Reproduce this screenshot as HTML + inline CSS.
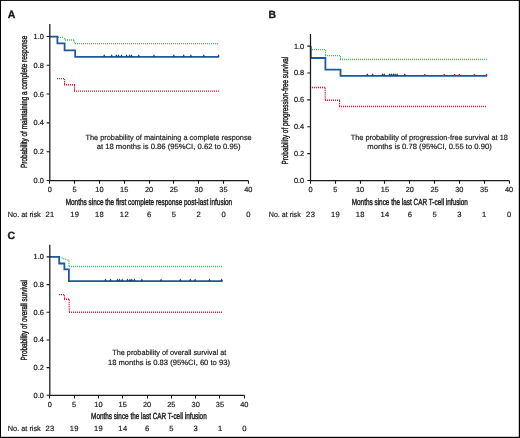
<!DOCTYPE html><html><head><meta charset="utf-8"><style>html,body{margin:0;padding:0;background:#fff;}svg{display:block;will-change:transform;filter:blur(0.3px);}text{font-family:"Liberation Sans",sans-serif;fill:#1a1a1a;stroke:#1a1a1a;stroke-width:0.18px;text-rendering:geometricPrecision;}</style></head><body>
<svg width="520" height="438" viewBox="0 0 520 438">
<rect x="0" y="0" width="520" height="438" fill="#fff"/>
<text x="43.9" y="183" font-size="7.4" text-anchor="end">0.0</text>
<text x="43.9" y="154.19" font-size="7.4" text-anchor="end">0.2</text>
<text x="43.9" y="125.38" font-size="7.4" text-anchor="end">0.4</text>
<text x="43.9" y="96.57" font-size="7.4" text-anchor="end">0.6</text>
<text x="43.9" y="67.76" font-size="7.4" text-anchor="end">0.8</text>
<text x="43.9" y="38.95" font-size="7.4" text-anchor="end">1.0</text>
<text x="49.8" y="191.8" font-size="7.4" text-anchor="middle">0</text>
<text x="50" y="216.9" font-size="7.6" letter-spacing="0.4" text-anchor="middle">21</text>
<text x="74.61" y="191.8" font-size="7.4" text-anchor="middle">5</text>
<text x="74.81" y="216.9" font-size="7.6" letter-spacing="0.4" text-anchor="middle">19</text>
<text x="99.42" y="191.8" font-size="7.4" text-anchor="middle">10</text>
<text x="99.62" y="216.9" font-size="7.6" letter-spacing="0.4" text-anchor="middle">18</text>
<text x="124.24" y="191.8" font-size="7.4" text-anchor="middle">15</text>
<text x="124.44" y="216.9" font-size="7.6" letter-spacing="0.4" text-anchor="middle">12</text>
<text x="149.05" y="191.8" font-size="7.4" text-anchor="middle">20</text>
<text x="149.25" y="216.9" font-size="7.6" letter-spacing="0.4" text-anchor="middle">6</text>
<text x="173.86" y="191.8" font-size="7.4" text-anchor="middle">25</text>
<text x="174.06" y="216.9" font-size="7.6" letter-spacing="0.4" text-anchor="middle">5</text>
<text x="198.68" y="191.8" font-size="7.4" text-anchor="middle">30</text>
<text x="198.88" y="216.9" font-size="7.6" letter-spacing="0.4" text-anchor="middle">2</text>
<text x="223.49" y="191.8" font-size="7.4" text-anchor="middle">35</text>
<text x="223.69" y="216.9" font-size="7.6" letter-spacing="0.4" text-anchor="middle">0</text>
<text x="248.3" y="191.8" font-size="7.4" text-anchor="middle">40</text>
<text x="248.5" y="216.9" font-size="7.6" letter-spacing="0.4" text-anchor="middle">0</text>
<path d="M46.6 180.5H49.8M46.6 151.69H49.8M46.6 122.88H49.8M46.6 94.07H49.8M46.6 65.26H49.8M46.6 36.45H49.8M49.5 180.5V183.7M74.5 180.5V183.7M99.5 180.5V183.7M124.5 180.5V183.7M149.5 180.5V183.7M173.5 180.5V183.7M198.5 180.5V183.7M223.5 180.5V183.7M248.5 180.5V183.7" fill="none" stroke="#1a1a1a" stroke-width="1.1"/>
<text x="7.8" y="216.9" font-size="7.6" textLength="33" lengthAdjust="spacingAndGlyphs">No. at risk</text>
<text x="65.7" y="205.2" font-size="8.9" style="stroke-width:0.4px" textLength="166.5" lengthAdjust="spacingAndGlyphs">Months since the first complete response post-last infusion</text>
<text transform="translate(26.8 168) rotate(-90)" x="0" y="0" font-size="8.9" style="stroke-width:0.4px" textLength="132.3" lengthAdjust="spacingAndGlyphs">Probability of maintaining a complete response</text>
<text x="304.2" y="183" font-size="7.4" text-anchor="end">0.0</text>
<text x="304.2" y="156.12" font-size="7.4" text-anchor="end">0.2</text>
<text x="304.2" y="129.24" font-size="7.4" text-anchor="end">0.4</text>
<text x="304.2" y="102.36" font-size="7.4" text-anchor="end">0.6</text>
<text x="304.2" y="75.48" font-size="7.4" text-anchor="end">0.8</text>
<text x="304.2" y="48.6" font-size="7.4" text-anchor="end">1.0</text>
<text x="310.5" y="191.8" font-size="7.4" text-anchor="middle">0</text>
<text x="310.7" y="216.6" font-size="7.6" letter-spacing="0.4" text-anchor="middle">23</text>
<text x="335.31" y="191.8" font-size="7.4" text-anchor="middle">5</text>
<text x="335.51" y="216.6" font-size="7.6" letter-spacing="0.4" text-anchor="middle">19</text>
<text x="360.12" y="191.8" font-size="7.4" text-anchor="middle">10</text>
<text x="360.32" y="216.6" font-size="7.6" letter-spacing="0.4" text-anchor="middle">18</text>
<text x="384.94" y="191.8" font-size="7.4" text-anchor="middle">15</text>
<text x="385.14" y="216.6" font-size="7.6" letter-spacing="0.4" text-anchor="middle">14</text>
<text x="409.75" y="191.8" font-size="7.4" text-anchor="middle">20</text>
<text x="409.95" y="216.6" font-size="7.6" letter-spacing="0.4" text-anchor="middle">6</text>
<text x="434.56" y="191.8" font-size="7.4" text-anchor="middle">25</text>
<text x="434.76" y="216.6" font-size="7.6" letter-spacing="0.4" text-anchor="middle">5</text>
<text x="459.38" y="191.8" font-size="7.4" text-anchor="middle">30</text>
<text x="459.57" y="216.6" font-size="7.6" letter-spacing="0.4" text-anchor="middle">3</text>
<text x="484.19" y="191.8" font-size="7.4" text-anchor="middle">35</text>
<text x="484.39" y="216.6" font-size="7.6" letter-spacing="0.4" text-anchor="middle">1</text>
<text x="509" y="191.8" font-size="7.4" text-anchor="middle">40</text>
<text x="509.2" y="216.6" font-size="7.6" letter-spacing="0.4" text-anchor="middle">0</text>
<path d="M307.3 180.5H310.5M307.3 153.62H310.5M307.3 126.74H310.5M307.3 99.86H310.5M307.3 72.98H310.5M307.3 46.1H310.5M310.5 180.5V183.7M335.5 180.5V183.7M360.5 180.5V183.7M384.5 180.5V183.7M409.5 180.5V183.7M434.5 180.5V183.7M459.5 180.5V183.7M484.5 180.5V183.7M509.5 180.5V183.7" fill="none" stroke="#1a1a1a" stroke-width="1.1"/>
<text x="268.8" y="216.6" font-size="7.6" textLength="31.9" lengthAdjust="spacingAndGlyphs">No. at risk</text>
<text x="351.7" y="205.1" font-size="8.9" style="stroke-width:0.4px" textLength="116.2" lengthAdjust="spacingAndGlyphs">Months since the last CAR T-cell infusion</text>
<text transform="translate(287.8 164.5) rotate(-90)" x="0" y="0" font-size="8.9" style="stroke-width:0.4px" textLength="107.8" lengthAdjust="spacingAndGlyphs">Probability of progression-free survival</text>
<text x="43.9" y="397.8" font-size="7.4" text-anchor="end">0.0</text>
<text x="43.9" y="370.12" font-size="7.4" text-anchor="end">0.2</text>
<text x="43.9" y="342.44" font-size="7.4" text-anchor="end">0.4</text>
<text x="43.9" y="314.76" font-size="7.4" text-anchor="end">0.6</text>
<text x="43.9" y="287.08" font-size="7.4" text-anchor="end">0.8</text>
<text x="43.9" y="259.4" font-size="7.4" text-anchor="end">1.0</text>
<text x="49.8" y="407" font-size="7.4" text-anchor="middle">0</text>
<text x="50" y="431.4" font-size="7.6" letter-spacing="0.4" text-anchor="middle">23</text>
<text x="74.11" y="407" font-size="7.4" text-anchor="middle">5</text>
<text x="74.31" y="431.4" font-size="7.6" letter-spacing="0.4" text-anchor="middle">19</text>
<text x="98.42" y="407" font-size="7.4" text-anchor="middle">10</text>
<text x="98.62" y="431.4" font-size="7.6" letter-spacing="0.4" text-anchor="middle">19</text>
<text x="122.74" y="407" font-size="7.4" text-anchor="middle">15</text>
<text x="122.94" y="431.4" font-size="7.6" letter-spacing="0.4" text-anchor="middle">14</text>
<text x="147.05" y="407" font-size="7.4" text-anchor="middle">20</text>
<text x="147.25" y="431.4" font-size="7.6" letter-spacing="0.4" text-anchor="middle">6</text>
<text x="171.36" y="407" font-size="7.4" text-anchor="middle">25</text>
<text x="171.56" y="431.4" font-size="7.6" letter-spacing="0.4" text-anchor="middle">5</text>
<text x="195.68" y="407" font-size="7.4" text-anchor="middle">30</text>
<text x="195.88" y="431.4" font-size="7.6" letter-spacing="0.4" text-anchor="middle">3</text>
<text x="219.99" y="407" font-size="7.4" text-anchor="middle">35</text>
<text x="220.19" y="431.4" font-size="7.6" letter-spacing="0.4" text-anchor="middle">1</text>
<text x="244.3" y="407" font-size="7.4" text-anchor="middle">40</text>
<text x="244.5" y="431.4" font-size="7.6" letter-spacing="0.4" text-anchor="middle">0</text>
<path d="M46.6 395.3H49.8M46.6 367.62H49.8M46.6 339.94H49.8M46.6 312.26H49.8M46.6 284.58H49.8M46.6 256.9H49.8M49.5 395.3V398.5M74.5 395.3V398.5M98.5 395.3V398.5M122.5 395.3V398.5M147.5 395.3V398.5M171.5 395.3V398.5M195.5 395.3V398.5M219.5 395.3V398.5M244.5 395.3V398.5" fill="none" stroke="#1a1a1a" stroke-width="1.1"/>
<text x="7.8" y="431.4" font-size="7.6" textLength="33" lengthAdjust="spacingAndGlyphs">No. at risk</text>
<text x="91.1" y="419.2" font-size="8.9" style="stroke-width:0.4px" textLength="115.6" lengthAdjust="spacingAndGlyphs">Months since the last CAR T-cell infusion</text>
<text transform="translate(26.8 360.4) rotate(-90)" x="0" y="0" font-size="8.9" style="stroke-width:0.4px" textLength="80.4" lengthAdjust="spacingAndGlyphs">Probability of overall survival</text>
<text x="7.7" y="17.6" font-size="10.5" font-weight="bold" style="stroke-width:0.35px">A</text>
<text x="268.4" y="17.8" font-size="10.4" font-weight="bold" style="stroke-width:0.35px">B</text>
<text x="7.6" y="238.8" font-size="10.5" font-weight="bold" style="stroke-width:0.35px">C</text>
<text x="85.5" y="140.1" font-size="7.6" textLength="166.2" lengthAdjust="spacingAndGlyphs">The probability of maintaining a complete response</text>
<text x="96.7" y="149.3" font-size="7.6" textLength="143.8" lengthAdjust="spacingAndGlyphs">at 18 months is 0.86 (95%CI, 0.62 to 0.95)</text>
<text x="350.7" y="140.3" font-size="7.6" textLength="157.2" lengthAdjust="spacingAndGlyphs">The probability of progression-free survival at 18</text>
<text x="367.3" y="149.3" font-size="7.6" textLength="124.4" lengthAdjust="spacingAndGlyphs">months is 0.78 (95%CI, 0.55 to 0.90)</text>
<text x="112.3" y="355" font-size="7.6" textLength="113.9" lengthAdjust="spacingAndGlyphs">The probability of overall survival at</text>
<text x="107.9" y="364.7" font-size="7.6" textLength="122.1" lengthAdjust="spacingAndGlyphs">18 months is 0.83 (95%CI, 60 to 93)</text>
<path d="M57.95 37.4h1.1M59.95 37.4h1.1M61.95 37.4h1.1M64.15 38.7h1.1M64.95 40h1.1M66.95 40h1.1M68.95 40h1.1M70.95 40h1.1M72.95 40h1.1M73.6 40.9h1.1M74.3 42.7h1.1M74.95 43.6h1.1M76.95 43.6h1.1M78.95 43.6h1.1M80.95 43.6h1.1M82.95 43.6h1.1M84.95 43.6h1.1M86.95 43.6h1.1M88.95 43.6h1.1M90.95 43.6h1.1M92.95 43.6h1.1M94.95 43.6h1.1M96.95 43.6h1.1M98.95 43.6h1.1M100.95 43.6h1.1M102.95 43.6h1.1M104.95 43.6h1.1M106.95 43.6h1.1M108.95 43.6h1.1M110.95 43.6h1.1M112.95 43.6h1.1M114.95 43.6h1.1M116.95 43.6h1.1M118.95 43.6h1.1M120.95 43.6h1.1M122.95 43.6h1.1M124.95 43.6h1.1M126.95 43.6h1.1M128.95 43.6h1.1M130.95 43.6h1.1M132.95 43.6h1.1M134.95 43.6h1.1M136.95 43.6h1.1M138.95 43.6h1.1M140.95 43.6h1.1M142.95 43.6h1.1M144.95 43.6h1.1M146.95 43.6h1.1M148.95 43.6h1.1M150.95 43.6h1.1M152.95 43.6h1.1M154.95 43.6h1.1M156.95 43.6h1.1M158.95 43.6h1.1M160.95 43.6h1.1M162.95 43.6h1.1M164.95 43.6h1.1M166.95 43.6h1.1M168.95 43.6h1.1M170.95 43.6h1.1M172.95 43.6h1.1M174.95 43.6h1.1M176.95 43.6h1.1M178.95 43.6h1.1M180.95 43.6h1.1M182.95 43.6h1.1M184.95 43.6h1.1M186.95 43.6h1.1M188.95 43.6h1.1M190.95 43.6h1.1M192.95 43.6h1.1M194.95 43.6h1.1M196.95 43.6h1.1M198.95 43.6h1.1M200.95 43.6h1.1M202.95 43.6h1.1M204.95 43.6h1.1M206.95 43.6h1.1M208.95 43.6h1.1M210.95 43.6h1.1M212.95 43.6h1.1M214.95 43.6h1.1M216.95 43.6h1.1" fill="none" stroke="#4cbd5b" stroke-width="1.4"/>
<path d="M56.95 78.6h1.1M58.95 78.6h1.1M60.95 78.6h1.1M62.95 78.6h1.1M64.05 79.63h1.1M64.05 81.7h1.1M64.05 83.77h1.1M63.95 84.8h1.1M65.95 84.8h1.1M67.95 84.8h1.1M69.95 84.8h1.1M71.95 84.8h1.1M73.95 84.8h1.1M74.05 85.85h1.1M74.05 87.95h1.1M74.05 90.05h1.1M73.95 91.1h1.1M75.95 91.1h1.1M77.95 91.1h1.1M79.95 91.1h1.1M81.95 91.1h1.1M83.95 91.1h1.1M85.95 91.1h1.1M87.95 91.1h1.1M89.95 91.1h1.1M91.95 91.1h1.1M93.95 91.1h1.1M95.95 91.1h1.1M97.95 91.1h1.1M99.95 91.1h1.1M101.95 91.1h1.1M103.95 91.1h1.1M105.95 91.1h1.1M107.95 91.1h1.1M109.95 91.1h1.1M111.95 91.1h1.1M113.95 91.1h1.1M115.95 91.1h1.1M117.95 91.1h1.1M119.95 91.1h1.1M121.95 91.1h1.1M123.95 91.1h1.1M125.95 91.1h1.1M127.95 91.1h1.1M129.95 91.1h1.1M131.95 91.1h1.1M133.95 91.1h1.1M135.95 91.1h1.1M137.95 91.1h1.1M139.95 91.1h1.1M141.95 91.1h1.1M143.95 91.1h1.1M145.95 91.1h1.1M147.95 91.1h1.1M149.95 91.1h1.1M151.95 91.1h1.1M153.95 91.1h1.1M155.95 91.1h1.1M157.95 91.1h1.1M159.95 91.1h1.1M161.95 91.1h1.1M163.95 91.1h1.1M165.95 91.1h1.1M167.95 91.1h1.1M169.95 91.1h1.1M171.95 91.1h1.1M173.95 91.1h1.1M175.95 91.1h1.1M177.95 91.1h1.1M179.95 91.1h1.1M181.95 91.1h1.1M183.95 91.1h1.1M185.95 91.1h1.1M187.95 91.1h1.1M189.95 91.1h1.1M191.95 91.1h1.1M193.95 91.1h1.1M195.95 91.1h1.1M197.95 91.1h1.1M199.95 91.1h1.1M201.95 91.1h1.1M203.95 91.1h1.1M205.95 91.1h1.1M207.95 91.1h1.1M209.95 91.1h1.1M211.95 91.1h1.1M213.95 91.1h1.1M215.95 91.1h1.1M217.95 91.1h1.1" fill="none" stroke="#d01f3c" stroke-width="1.4"/>
<path d="M49.8 36.6H57.4V43.4H64.6V50.3H75.2V56.9H218.9" fill="none" stroke="#1d5a97" stroke-width="1.8"/>
<path d="M103 56.4L104.2 54.3L105.4 56.4ZM110.5 56.4L111.7 54.3L112.9 56.4ZM115.1 56.4L116.3 54.3L117.5 56.4ZM117.3 56.4L118.5 54.3L119.7 56.4ZM120.3 56.4L121.5 54.3L122.7 56.4ZM125.3 56.4L126.5 54.3L127.7 56.4ZM128.4 56.4L129.6 54.3L130.8 56.4ZM130.3 56.4L131.5 54.3L132.7 56.4ZM137.6 56.4L138.8 54.3L140 56.4ZM152.8 56.4L154 54.3L155.2 56.4ZM172.6 56.4L173.8 54.3L175 56.4ZM182.5 56.4L183.7 54.3L184.9 56.4ZM189.7 56.4L190.9 54.3L192.1 56.4ZM202.6 56.4L203.8 54.3L205 56.4ZM217.4 56.4L218.6 54.3L219.8 56.4Z" fill="#0b3a70" stroke="none"/>
<path d="M309.95 49.6h1.1M311.95 49.6h1.1M313.95 49.6h1.1M315.95 49.6h1.1M317.95 49.6h1.1M319.95 49.6h1.1M321.95 49.6h1.1M323.95 49.6h1.1M325.05 50.6h1.1M325.05 52.6h1.1M325.05 54.6h1.1M324.95 55.6h1.1M326.95 55.6h1.1M328.95 55.6h1.1M330.95 55.6h1.1M332.95 55.6h1.1M334.95 55.6h1.1M336.95 55.6h1.1M338.95 55.6h1.1M339.95 56.58h1.1M339.95 58.52h1.1M339.95 59.5h1.1M341.95 59.5h1.1M343.95 59.5h1.1M345.95 59.5h1.1M347.95 59.5h1.1M349.95 59.5h1.1M351.95 59.5h1.1M353.95 59.5h1.1M355.95 59.5h1.1M357.95 59.5h1.1M359.95 59.5h1.1M361.95 59.5h1.1M363.95 59.5h1.1M365.95 59.5h1.1M367.95 59.5h1.1M369.95 59.5h1.1M371.95 59.5h1.1M373.95 59.5h1.1M375.95 59.5h1.1M377.95 59.5h1.1M379.95 59.5h1.1M381.95 59.5h1.1M383.95 59.5h1.1M385.95 59.5h1.1M387.95 59.5h1.1M389.95 59.5h1.1M391.95 59.5h1.1M393.95 59.5h1.1M395.95 59.5h1.1M397.95 59.5h1.1M399.95 59.5h1.1M401.95 59.5h1.1M403.95 59.5h1.1M405.95 59.5h1.1M407.95 59.5h1.1M409.95 59.5h1.1M411.95 59.5h1.1M413.95 59.5h1.1M415.95 59.5h1.1M417.95 59.5h1.1M419.95 59.5h1.1M421.95 59.5h1.1M423.95 59.5h1.1M425.95 59.5h1.1M427.95 59.5h1.1M429.95 59.5h1.1M431.95 59.5h1.1M433.95 59.5h1.1M435.95 59.5h1.1M437.95 59.5h1.1M439.95 59.5h1.1M441.95 59.5h1.1M443.95 59.5h1.1M445.95 59.5h1.1M447.95 59.5h1.1M449.95 59.5h1.1M451.95 59.5h1.1M453.95 59.5h1.1M455.95 59.5h1.1M457.95 59.5h1.1M459.95 59.5h1.1M461.95 59.5h1.1M463.95 59.5h1.1M465.95 59.5h1.1M467.95 59.5h1.1M469.95 59.5h1.1M471.95 59.5h1.1M473.95 59.5h1.1M475.95 59.5h1.1M477.95 59.5h1.1M479.95 59.5h1.1M481.95 59.5h1.1M483.95 59.5h1.1M485.95 59.5h1.1" fill="none" stroke="#4cbd5b" stroke-width="1.4"/>
<path d="M309.95 87.5h1.1M311.95 87.5h1.1M313.95 87.5h1.1M315.95 87.5h1.1M317.95 87.5h1.1M319.95 87.5h1.1M321.95 87.5h1.1M323.95 87.5h1.1M324.65 88.56h1.1M324.65 90.67h1.1M324.65 92.79h1.1M324.65 94.91h1.1M324.65 97.03h1.1M324.65 99.14h1.1M324.95 100.2h1.1M326.95 100.2h1.1M328.95 100.2h1.1M330.95 100.2h1.1M332.95 100.2h1.1M334.95 100.2h1.1M336.95 100.2h1.1M338.95 100.2h1.1M339.05 101.25h1.1M339.05 103.35h1.1M339.05 105.45h1.1M338.95 106.5h1.1M340.95 106.5h1.1M342.95 106.5h1.1M344.95 106.5h1.1M346.95 106.5h1.1M348.95 106.5h1.1M350.95 106.5h1.1M352.95 106.5h1.1M354.95 106.5h1.1M356.95 106.5h1.1M358.95 106.5h1.1M360.95 106.5h1.1M362.95 106.5h1.1M364.95 106.5h1.1M366.95 106.5h1.1M368.95 106.5h1.1M370.95 106.5h1.1M372.95 106.5h1.1M374.95 106.5h1.1M376.95 106.5h1.1M378.95 106.5h1.1M380.95 106.5h1.1M382.95 106.5h1.1M384.95 106.5h1.1M386.95 106.5h1.1M388.95 106.5h1.1M390.95 106.5h1.1M392.95 106.5h1.1M394.95 106.5h1.1M396.95 106.5h1.1M398.95 106.5h1.1M400.95 106.5h1.1M402.95 106.5h1.1M404.95 106.5h1.1M406.95 106.5h1.1M408.95 106.5h1.1M410.95 106.5h1.1M412.95 106.5h1.1M414.95 106.5h1.1M416.95 106.5h1.1M418.95 106.5h1.1M420.95 106.5h1.1M422.95 106.5h1.1M424.95 106.5h1.1M426.95 106.5h1.1M428.95 106.5h1.1M430.95 106.5h1.1M432.95 106.5h1.1M434.95 106.5h1.1M436.95 106.5h1.1M438.95 106.5h1.1M440.95 106.5h1.1M442.95 106.5h1.1M444.95 106.5h1.1M446.95 106.5h1.1M448.95 106.5h1.1M450.95 106.5h1.1M452.95 106.5h1.1M454.95 106.5h1.1M456.95 106.5h1.1M458.95 106.5h1.1M460.95 106.5h1.1M462.95 106.5h1.1M464.95 106.5h1.1M466.95 106.5h1.1M468.95 106.5h1.1M470.95 106.5h1.1M472.95 106.5h1.1M474.95 106.5h1.1M476.95 106.5h1.1M478.95 106.5h1.1M480.95 106.5h1.1M482.95 106.5h1.1M484.95 106.5h1.1" fill="none" stroke="#d01f3c" stroke-width="1.4"/>
<path d="M310.8 46.3V58H325.4V69.7H340.5V75.9H487" fill="none" stroke="#1d5a97" stroke-width="1.8"/>
<path d="M366.1 75.4L367.3 73.3L368.5 75.4ZM371.4 75.4L372.6 73.3L373.8 75.4ZM381.3 75.4L382.5 73.3L383.7 75.4ZM383 75.4L384.2 73.3L385.4 75.4ZM388.5 75.4L389.7 73.3L390.9 75.4ZM390.2 75.4L391.4 73.3L392.6 75.4ZM392.2 75.4L393.4 73.3L394.6 75.4ZM393.9 75.4L395.1 73.3L396.3 75.4ZM395.9 75.4L397.1 73.3L398.3 75.4ZM403.5 75.4L404.7 73.3L405.9 75.4Z" fill="#0b3a70" stroke="none"/>
<path d="M423.95 73.9h1.5v2h-1.5ZM443.55 73.9h1.5v2h-1.5ZM453.85 73.9h1.5v2h-1.5ZM458.55 73.9h1.5v2h-1.5ZM473.65 73.9h1.5v2h-1.5ZM485.75 73.9h1.5v2h-1.5Z" fill="#d01f3c" stroke="none"/>
<path d="M61.58 257.9h1.1M63.22 258.7h1.1M65.15 259.38h1.1M67.35 259.93h1.1M68.45 261.25h1.1M68.45 263.35h1.1M68.45 265.45h1.1M68.95 266.5h1.1M70.95 266.5h1.1M72.95 266.5h1.1M74.95 266.5h1.1M76.95 266.5h1.1M78.95 266.5h1.1M80.95 266.5h1.1M82.95 266.5h1.1M84.95 266.5h1.1M86.95 266.5h1.1M88.95 266.5h1.1M90.95 266.5h1.1M92.95 266.5h1.1M94.95 266.5h1.1M96.95 266.5h1.1M98.95 266.5h1.1M100.95 266.5h1.1M102.95 266.5h1.1M104.95 266.5h1.1M106.95 266.5h1.1M108.95 266.5h1.1M110.95 266.5h1.1M112.95 266.5h1.1M114.95 266.5h1.1M116.95 266.5h1.1M118.95 266.5h1.1M120.95 266.5h1.1M122.95 266.5h1.1M124.95 266.5h1.1M126.95 266.5h1.1M128.95 266.5h1.1M130.95 266.5h1.1M132.95 266.5h1.1M134.95 266.5h1.1M136.95 266.5h1.1M138.95 266.5h1.1M140.95 266.5h1.1M142.95 266.5h1.1M144.95 266.5h1.1M146.95 266.5h1.1M148.95 266.5h1.1M150.95 266.5h1.1M152.95 266.5h1.1M154.95 266.5h1.1M156.95 266.5h1.1M158.95 266.5h1.1M160.95 266.5h1.1M162.95 266.5h1.1M164.95 266.5h1.1M166.95 266.5h1.1M168.95 266.5h1.1M170.95 266.5h1.1M172.95 266.5h1.1M174.95 266.5h1.1M176.95 266.5h1.1M178.95 266.5h1.1M180.95 266.5h1.1M182.95 266.5h1.1M184.95 266.5h1.1M186.95 266.5h1.1M188.95 266.5h1.1M190.95 266.5h1.1M192.95 266.5h1.1M194.95 266.5h1.1M196.95 266.5h1.1M198.95 266.5h1.1M200.95 266.5h1.1M202.95 266.5h1.1M204.95 266.5h1.1M206.95 266.5h1.1M208.95 266.5h1.1M210.95 266.5h1.1M212.95 266.5h1.1M214.95 266.5h1.1M216.95 266.5h1.1M218.95 266.5h1.1M220.95 266.5h1.1" fill="none" stroke="#4cbd5b" stroke-width="1.4"/>
<path d="M58.95 294.6h1.1M60.95 294.6h1.1M62.95 294.6h1.1M63.8 295.75h1.1M64.1 298.05h1.1M63.95 299.2h1.1M65.95 299.2h1.1M67.95 299.2h1.1M68.65 300.28h1.1M68.65 302.45h1.1M68.65 304.62h1.1M68.65 306.78h1.1M68.65 308.95h1.1M68.65 311.12h1.1M68.95 312.2h1.1M70.95 312.2h1.1M72.95 312.2h1.1M74.95 312.2h1.1M76.95 312.2h1.1M78.95 312.2h1.1M80.95 312.2h1.1M82.95 312.2h1.1M84.95 312.2h1.1M86.95 312.2h1.1M88.95 312.2h1.1M90.95 312.2h1.1M92.95 312.2h1.1M94.95 312.2h1.1M96.95 312.2h1.1M98.95 312.2h1.1M100.95 312.2h1.1M102.95 312.2h1.1M104.95 312.2h1.1M106.95 312.2h1.1M108.95 312.2h1.1M110.95 312.2h1.1M112.95 312.2h1.1M114.95 312.2h1.1M116.95 312.2h1.1M118.95 312.2h1.1M120.95 312.2h1.1M122.95 312.2h1.1M124.95 312.2h1.1M126.95 312.2h1.1M128.95 312.2h1.1M130.95 312.2h1.1M132.95 312.2h1.1M134.95 312.2h1.1M136.95 312.2h1.1M138.95 312.2h1.1M140.95 312.2h1.1M142.95 312.2h1.1M144.95 312.2h1.1M146.95 312.2h1.1M148.95 312.2h1.1M150.95 312.2h1.1M152.95 312.2h1.1M154.95 312.2h1.1M156.95 312.2h1.1M158.95 312.2h1.1M160.95 312.2h1.1M162.95 312.2h1.1M164.95 312.2h1.1M166.95 312.2h1.1M168.95 312.2h1.1M170.95 312.2h1.1M172.95 312.2h1.1M174.95 312.2h1.1M176.95 312.2h1.1M178.95 312.2h1.1M180.95 312.2h1.1M182.95 312.2h1.1M184.95 312.2h1.1M186.95 312.2h1.1M188.95 312.2h1.1M190.95 312.2h1.1M192.95 312.2h1.1M194.95 312.2h1.1M196.95 312.2h1.1M198.95 312.2h1.1M200.95 312.2h1.1M202.95 312.2h1.1M204.95 312.2h1.1M206.95 312.2h1.1M208.95 312.2h1.1M210.95 312.2h1.1M212.95 312.2h1.1M214.95 312.2h1.1M216.95 312.2h1.1M218.95 312.2h1.1M220.95 312.2h1.1" fill="none" stroke="#d01f3c" stroke-width="1.4"/>
<path d="M49.8 256.9H59.2V263.5H64.4V269.3H68.9V281.2H222.7" fill="none" stroke="#1d5a97" stroke-width="1.8"/>
<path d="M104.3 280.7L105.5 278.6L106.7 280.7ZM109.3 280.7L110.5 278.6L111.7 280.7ZM116.2 280.7L117.4 278.6L118.6 280.7ZM118.3 280.7L119.5 278.6L120.7 280.7ZM121 280.7L122.2 278.6L123.4 280.7ZM126.3 280.7L127.5 278.6L128.7 280.7ZM128.7 280.7L129.9 278.6L131.1 280.7ZM130.6 280.7L131.8 278.6L133 280.7ZM133.2 280.7L134.4 278.6L135.6 280.7ZM140.7 280.7L141.9 278.6L143.1 280.7ZM159.9 280.7L161.1 278.6L162.3 280.7ZM179.1 280.7L180.3 278.6L181.5 280.7ZM189.1 280.7L190.3 278.6L191.5 280.7ZM193.9 280.7L195.1 278.6L196.3 280.7ZM208.3 280.7L209.5 278.6L210.7 280.7ZM220.4 280.7L221.6 278.6L222.8 280.7Z" fill="#0b3a70" stroke="none"/>
<path d="M49.8 24V180.5H248.3" fill="none" stroke="#1a1a1a" stroke-width="1.25"/>
<path d="M310.5 34V180.5H509" fill="none" stroke="#1a1a1a" stroke-width="1.25"/>
<path d="M49.8 244.8V395.3H244.3" fill="none" stroke="#1a1a1a" stroke-width="1.25"/>
<rect x="0" y="0" width="1" height="438" fill="#000"/>
<rect x="0" y="0" width="520" height="0.9" fill="#000"/>
<rect x="518.8" y="0" width="1.2" height="438" fill="#000"/>
<rect x="0" y="436.8" width="520" height="1.2" fill="#000"/>
</svg></body></html>
